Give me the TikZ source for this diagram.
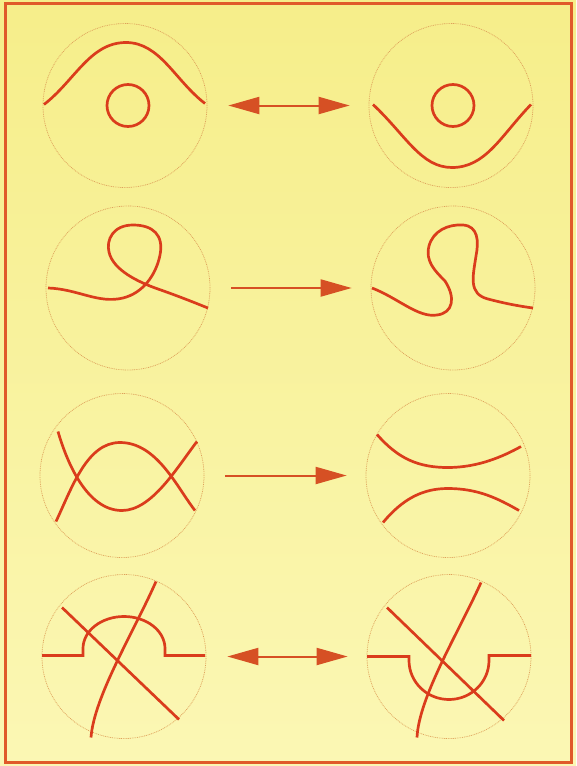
\documentclass[tikz,border=0pt]{standalone}
\usepackage{tikz}
\usetikzlibrary{arrows.meta}
\definecolor{myred}{RGB}{218,60,28}
\definecolor{myarrow}{RGB}{214,80,36}
\definecolor{myframe}{RGB}{224,90,42}
\definecolor{mydots}{RGB}{222,160,90}
\definecolor{bgtop}{RGB}{246,238,138}
\definecolor{bgbottom}{RGB}{251,247,180}
\tikzset{
  disc/.style={circle, draw=mydots, line width=0.7pt, dash pattern=on 0.9pt off 0.9pt,
    minimum size=164pt, inner sep=0pt},
  strand/.style={draw=myred, line width=2.7pt},
  oneway/.style={-{Triangle[length=31pt, width=17pt]}, line width=2pt, color=myarrow,
    shorten <=21pt, shorten >=19pt},
  twoway/.style={{Triangle[length=31pt, width=17pt]}-{Triangle[length=31pt, width=17pt]},
    line width=2pt, color=myarrow, shorten <=21pt, shorten >=19pt}
}

\begin{document}
\begin{tikzpicture}[x=1pt, y=-1pt]

  % Background and frame
  \useasboundingbox (0,0) rectangle (576,766);
  \shade[top color=bgtop, bottom color=bgbottom] (0,0) rectangle (576,766);
  \draw[myframe, line width=3pt] (5,3) rectangle (571,762);

  % Discs
  \node[disc] (L1) at (125,105.5) {};
  \node[disc] (R1) at (451,105.5) {};
  \node[disc] (L2) at (128,288) {};
  \node[disc] (R2) at (453,288) {};
  \node[disc] (L3) at (122,475.5) {};
  \node[disc] (R3) at (448,475.5) {};
  \node[disc] (L4) at (124,656.5) {};
  \node[disc] (R4) at (449,656.5) {};

  % Moves
  \draw[twoway] (L1.east) -- (R1.west);
  \draw[oneway] (L2.east) -- (R2.west);
  \draw[oneway] (L3.east) -- (R3.west);
  \draw[twoway] (L4.east) -- (R4.west);

  % Row 1
  \begin{scope}[shift={(L1.center)}]
    \draw[strand] (-81,-1) .. controls (-50,-25) and (-35,-63) .. (1,-63)
      .. controls (35,-63) and (50,-25) .. (80,-2);
    \draw[strand] (3,0) circle (21);
  \end{scope}
  \begin{scope}[shift={(R1.center)}]
    \draw[strand] (-78,-1) .. controls (-45,30) and (-30,62) .. (1,62)
      .. controls (35,62) and (50,30) .. (80,-1);
    \draw[strand] (2,0) circle (21);
  \end{scope}

  % Row 2
  \begin{scope}[shift={(L2.center)}]
    \draw[strand] (-80,0) .. controls (-50,1) and (-30,16) .. (-5,10)
      .. controls (15,5) and (28,-13) .. (32,-33)
      .. controls (36,-53) and (25,-63) .. (5,-63)
      .. controls (-15,-63) and (-22,-48) .. (-19,-36)
      .. controls (-15,-18) and (10,-6) .. (30,1)
      .. controls (50,8) and (65,14) .. (80,20);
  \end{scope}
  \begin{scope}[shift={(R2.center)}]
    \draw[strand] (-81,0) .. controls (-55,10) and (-35,30) .. (-16,27)
      .. controls (0,25) and (3,10) .. (-8,-7)
      .. controls (-18,-17) and (-28,-27) .. (-24,-42)
      .. controls (-20,-57) and (-5,-64) .. (10,-63)
      .. controls (25,-62) and (26,-47) .. (23,-32)
      .. controls (20,-12) and (15,6) .. (35,11)
      .. controls (50,15) and (65,18) .. (80,20);
  \end{scope}

  % Row 3
  \begin{scope}[shift={(L3.center)}]
    \draw[strand] (-64,-44) .. controls (-55,-13) and (-35,35) .. (0,35)
      .. controls (30,35) and (55,-8) .. (75,-34);
    \draw[strand] (-66,46) .. controls (-50,12) and (-35,-33) .. (-2,-33)
      .. controls (35,-33) and (55,12) .. (73,35);
  \end{scope}
  \begin{scope}[shift={(R3.center)}]
    \draw[strand] (-71,-41) .. controls (-50,-17) and (-30,-8) .. (0,-8)
      .. controls (30,-8) and (55,-19) .. (73,-29);
    \draw[strand] (-65,47) .. controls (-45,23) and (-25,13) .. (0,13)
      .. controls (30,13) and (50,23) .. (71,35);
  \end{scope}

  % Row 4
  \begin{scope}[shift={(L4.center)}]
    \draw[strand] (-82,-1) -- (-41,-1) -- (-41,-8) arc (180:360:41 and 32) -- (41,-1) -- (81,-1);
    \draw[strand] (-62,-49) -- (55,63);
    \draw[strand] (32,-75) .. controls (10,-25) and (-30,40) .. (-33,81);
  \end{scope}
  \begin{scope}[shift={(R4.center)}]
    \draw[strand] (-82,0) -- (-40,0) -- (-40,4) arc (180:0:40 and 39) -- (40,-1) -- (82,-1);
    \draw[strand] (-62,-49) -- (55,64);
    \draw[strand] (32,-74) .. controls (10,-25) and (-30,40) .. (-32,81);
  \end{scope}

\end{tikzpicture}
\end{document}
